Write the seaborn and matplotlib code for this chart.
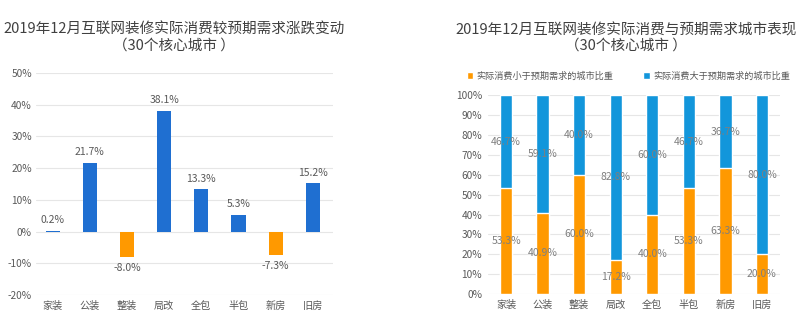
import matplotlib
matplotlib.use("Agg")
import matplotlib.pyplot as plt
import seaborn as sns
import pandas as pd
import numpy as np

categories = ["家装", "公装", "整装", "局改", "全包", "半包", "新房", "旧房"]
change_pct = [0.2, 21.7, -8.0, 38.1, 13.3, 5.3, -7.3, 15.2]
less_pct = [53.3, 40.9, 60.0, 17.2, 40.0, 53.3, 63.3, 20.0]
more_pct = [46.7, 59.1, 40.0, 82.8, 60.0, 46.7, 36.7, 80.0]
left_ticks = [-20, -10, 0, 10, 20, 30, 40, 50]
right_ticks = [0, 10, 20, 30, 40, 50, 60, 70, 80, 90, 100]
title_left = "2019年12月互联网装修实际消费较预期需求涨跌变动\n（30个核心城市 ）"
title_right = "2019年12月互联网装修实际消费与预期需求城市表现\n（30个核心城市 ）"
legend_labels = ["实际消费小于预期需求的城市比重", "实际消费大于预期需求的城市比重"]

sns.set_theme(style="white")
plt.rcParams['font.family'] = ['Noto Sans CJK SC', 'DejaVu Sans']

BLUE_L = "#1F6FD1"
ORANGE = "#FF9900"
BLUE_R = "#1296DB"
GRID = "#E6E6E6"
TXT = "#595959"

fig = plt.figure(figsize=(8.01, 3.29), dpi=100)

# Left chart
ax1 = fig.add_axes([0.045, 0.103, 0.371, 0.675])
df1 = pd.DataFrame({"cat": categories, "val": change_pct,
                    "sign": ["pos" if v >= 0 else "neg" for v in change_pct]})
sns.barplot(data=df1, x="cat", y="val", hue="sign", palette={"pos": BLUE_L, "neg": ORANGE},
            width=0.38, dodge=False, legend=False, ax=ax1, saturation=1,
            linewidth=0, edgecolor="none")
ax1.set_ylim(-20, 50)
ax1.set_xlim(-0.45, 7.55)
ax1.set_yticks(left_ticks)
ax1.set_yticklabels([f"{t}%" for t in left_ticks])
ax1.yaxis.grid(True, color=GRID, linewidth=0.8)
ax1.set_axisbelow(True)
for s in ax1.spines.values():
    s.set_visible(False)
ax1.set_xlabel("")
ax1.set_ylabel("")
ax1.tick_params(axis="both", length=0, labelsize=7.3, colors=TXT, pad=4)
ax1.tick_params(axis="y", pad=3)
for i, v in enumerate(change_pct):
    if v >= 0:
        ax1.text(i, v + 1.8, f"{v:.1f}%", ha="center", va="bottom", fontsize=7.5, color=TXT)
    else:
        ax1.text(i, v - 2.0, f"{v:.1f}%", ha="center", va="top", fontsize=7.5, color=TXT)
fig.text(0.217, 0.93, title_left, ha="center", va="top", fontsize=10.5, color="#404040",
         linespacing=1.15)

# Right chart
ax2 = fig.add_axes([0.609, 0.106, 0.365, 0.605])
totals = [a + b for a, b in zip(less_pct, more_pct)]
df2 = pd.DataFrame({"cat": categories, "less": less_pct, "total": totals})
sns.barplot(data=df2, x="cat", y="total", color=BLUE_R, width=0.34, ax=ax2, saturation=1,
            label=legend_labels[1])
sns.barplot(data=df2, x="cat", y="less", color=ORANGE, width=0.34, ax=ax2, saturation=1,
            label=legend_labels[0])
ax2.set_ylim(0, 100)
ax2.set_xlim(-0.5, 7.5)
ax2.set_yticks(right_ticks)
ax2.set_yticklabels([f"{t}%" for t in right_ticks])
ax2.yaxis.grid(True, color=GRID, linewidth=0.8)
ax2.set_axisbelow(True)
for s in ax2.spines.values():
    s.set_visible(False)
ax2.set_xlabel("")
ax2.set_ylabel("")
ax2.tick_params(axis="both", length=0, labelsize=7.3, colors=TXT, pad=4)
ax2.tick_params(axis="y", pad=4)
for i, (a, b) in enumerate(zip(less_pct, more_pct)):
    ax2.text(i, a / 2, f"{a:.1f}%", ha="center", va="center", fontsize=7.5, color="#7F7F7F")
    ax2.text(i, a + b / 2, f"{b:.1f}%", ha="center", va="center", fontsize=7.5, color="#7F7F7F")
handles, labels = ax2.get_legend_handles_labels()
order = [labels.index(legend_labels[0]), labels.index(legend_labels[1])]
ax2.legend([handles[k] for k in order], [labels[k] for k in order],
           loc="lower center", bbox_to_anchor=(0.48, 1.03), ncol=2, frameon=False,
           fontsize=6.6, handlelength=0.75, handleheight=0.75, columnspacing=3.2,
           handletextpad=0.35, labelcolor=TXT)
fig.text(0.782, 0.93, title_right, ha="center", va="top", fontsize=10.5, color="#404040",
         linespacing=1.15)

fig.savefig("out.png", dpi=100)
